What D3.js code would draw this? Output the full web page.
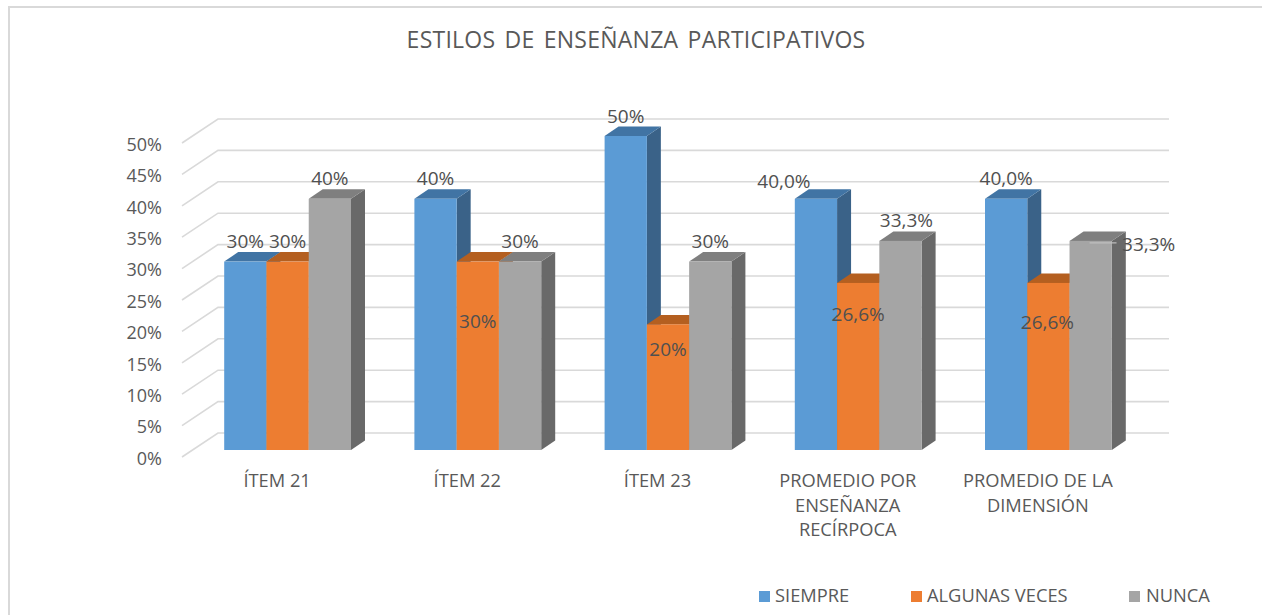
<!DOCTYPE html>
<html>
<head>
<meta charset="utf-8">
<script src="https://cdn.jsdelivr.net/npm/d3@7"></script>
<style>
  html, body { margin: 0; background: #fff; }
  svg { display: block; font-family: "Open Sans", sans-serif; }
</style>
</head>
<body>
<div id="chart"></div>
<script>
const categories = ["ÍTEM 21", "ÍTEM 22", "ÍTEM 23", "PROMEDIO POR|ENSEÑANZA|RECÍRPOCA", "PROMEDIO DE LA|DIMENSIÓN"];
const seriesNames = ["SIEMPRE", "ALGUNAS VECES", "NUNCA"];
const siempre = [0.30, 0.40, 0.50, 0.40, 0.40];
const algunas = [0.30, 0.30, 0.20, 0.266, 0.266];
const nunca = [0.40, 0.30, 0.30, 0.333, 0.333];
const labelsSiempre = ["30%", "40%", "50%", "40,0%", "40,0%"];
const labelsAlgunas = ["30%", "30%", "20%", "26,6%", "26,6%"];
const labelsNunca = ["40%", "30%", "30%", "33,3%", "33,3%"];
const yTicks = [0, 0.05, 0.1, 0.15, 0.2, 0.25, 0.3, 0.35, 0.4, 0.45, 0.5];

// label nudges, relative to the top centre of each bar
const nudgeSiempre = [[0, -20], [0, -20], [0, -20], [-32, -17], [0, -20]];
const nudgeAlgunas = [[0, -20], [0, 60], [0, 25], [0, 31], [-1, 39]];
const nudgeNunca = [[0, -20], [0, -20], [0, -20], [6, -21], [58, 3]];

const width = 1262, height = 615;
const textColor = "#595959";
const front = ["#5b9bd5", "#ed7d31", "#a5a5a5"];
const top3d = ["#4174a4", "#b45f20", "#7f7f7f"];
const side3d = ["#3a6288", "#a85a1e", "#696969"];

// depth of the floor, and of the bars standing on it
const wallDx = 36, wallDy = -24;
const barOffDx = 10.5, barOffDy = -7;
const barDx = 14, barDy = -9.5;

const x = d3.scaleBand().domain(categories).range([182, 1133]).paddingInner(1 / 3).paddingOuter(1 / 6);
const xInner = d3.scaleBand().domain(seriesNames).range([0, x.bandwidth()]);
const y = d3.scaleLinear().domain([0, 0.5]).range([457, 143]);

const svg = d3.select("#chart").append("svg").attr("width", width).attr("height", height);

// outer frame, only top and left show in the crop
svg.append("path")
  .attr("d", `M9,${height}V7H${width}`)
  .attr("fill", "none").attr("stroke", "#d9d9d9").attr("stroke-width", 2);

svg.append("text")
  .attr("x", 636).attr("y", 48)
  .attr("text-anchor", "middle")
  .attr("font-size", 23).attr("word-spacing", 3).attr("letter-spacing", 0.25).attr("fill", textColor)
  .text("ESTILOS DE ENSEÑANZA PARTICIPATIVOS");

// gridlines: floor edge then back wall
svg.append("g").selectAll("path").data(yTicks).join("path")
  .attr("d", d => `M182,${y(d)}l${wallDx},${wallDy}H1169`)
  .attr("fill", "none").attr("stroke", "#d9d9d9").attr("stroke-width", 1.6);

const axis = svg.append("g")
  .attr("transform", "translate(162,1.5)")
  .call(d3.axisLeft(y).tickValues(yTicks).tickSize(0).tickPadding(0).tickFormat(d3.format(".0%")));
axis.select(".domain").remove();
axis.selectAll("text").attr("font-size", 18).attr("font-family", "Open Sans").attr("fill", textColor);

const rows = [siempre, algunas, nunca];

categories.forEach((cat, c) => {
  const g = svg.append("g");
  seriesNames.forEach((name, s) => {
    const x0 = x(cat) + xInner(name) + barOffDx;
    const x1 = x0 + xInner.bandwidth();
    const yb = y(0) + barOffDy;
    const yt = y(rows[s][c]) + barOffDy;
    g.append("path").attr("fill", side3d[s])
      .attr("d", `M${x1},${yt}l${barDx},${barDy}V${yb + barDy}L${x1},${yb}Z`);
    g.append("path").attr("fill", top3d[s])
      .attr("d", `M${x0},${yt}l${barDx},${barDy}H${x1 + barDx}L${x1},${yt}Z`);
    g.append("rect").attr("fill", front[s])
      .attr("x", x0).attr("y", yt).attr("width", x1 - x0).attr("height", yb - yt);
  });
});

// leader line of the last 33,3% label
const lastCat = categories[4];
svg.append("line")
  .attr("x1", x(lastCat) + xInner("NUNCA") + barOffDx + 20)
  .attr("x2", x(lastCat) + xInner("NUNCA") + barOffDx + 47)
  .attr("y1", y(nunca[4]) + barOffDy + 2).attr("y2", y(nunca[4]) + barOffDy + 2)
  .attr("stroke", "#bfbfbf").attr("stroke-width", 1.2);

const labelRows = [labelsSiempre, labelsAlgunas, labelsNunca];
const nudgeRows = [nudgeSiempre, nudgeAlgunas, nudgeNunca];
categories.forEach((cat, c) => {
  seriesNames.forEach((name, s) => {
    const n = nudgeRows[s][c];
    svg.append("text")
      .attr("x", x(cat) + xInner(name) + xInner.bandwidth() / 2 + barOffDx + n[0])
      .attr("y", y(rows[s][c]) + barOffDy + n[1])
      .attr("dy", "0.35em")
      .attr("text-anchor", "middle")
      .attr("font-size", 19).attr("fill", "#505050")
      .text(labelRows[s][c]);
  });
});

// category labels sit under the front edge of the floor
categories.forEach(cat => {
  const t = svg.append("text")
    .attr("text-anchor", "middle")
    .attr("font-size", 18.3).attr("fill", textColor);
  cat.split("|").forEach((line, i) => {
    t.append("tspan")
      .attr("x", x(cat) + x.bandwidth() / 2)
      .attr("y", 487 + i * 24.7)
      .text(line);
  });
});

// legend
const legendX = [759, 911, 1129];
const legendTextX = [775, 927, 1146];
seriesNames.forEach((name, s) => {
  svg.append("rect")
    .attr("x", legendX[s]).attr("y", 591).attr("width", 11).attr("height", 11)
    .attr("fill", front[s]);
  svg.append("text")
    .attr("x", legendTextX[s]).attr("y", 602)
    .attr("font-size", 18.3).attr("fill", textColor)
    .text(name);
});
</script>
</body>
</html>
